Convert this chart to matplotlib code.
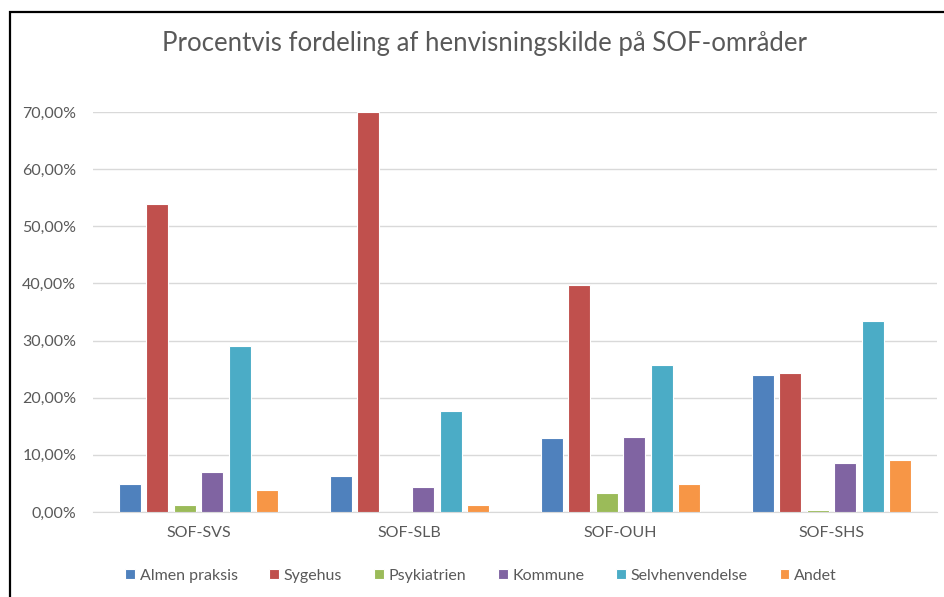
import numpy as np
import matplotlib
matplotlib.use('Agg')
import matplotlib.pyplot as plt
from matplotlib.patches import Rectangle
from matplotlib.ticker import FuncFormatter

# Data (percent)
areas = ['SOF-SVS', 'SOF-SLB', 'SOF-OUH', 'SOF-SHS']
sources = ['Almen praksis', 'Sygehus', 'Psykiatrien', 'Kommune', 'Selvhenvendelse', 'Andet']
almen_praksis = [4.9, 6.3, 13.0, 24.0]
sygehus = [53.9, 70.0, 39.7, 24.3]
psykiatrien = [1.2, 0.0, 3.3, 0.4]
kommune = [7.0, 4.4, 13.1, 8.6]
selvhenvendelse = [29.1, 17.7, 25.7, 33.4]
andet = [3.9, 1.2, 4.9, 9.1]
series = [almen_praksis, sygehus, psykiatrien, kommune, selvhenvendelse, andet]
colors = ['#4f81bd', '#c0504d', '#9bbb59', '#8064a2', '#4bacc6', '#f79646']

plt.rcParams['font.family'] = ['Lato', 'DejaVu Sans']
grey = '#595959'

fig = plt.figure(figsize=(9.44, 5.97), dpi=100)
W, H = 944, 597
ax = fig.add_axes([93 / W, 1 - 512 / H, (937 - 93) / W, 400 / H])

x = np.arange(len(areas))
pitch = 0.13
width = 0.104
for i, (vals, col, name) in enumerate(zip(series, colors, sources)):
    ax.bar(x + (i - 2.5) * pitch, vals, width, color=col, edgecolor='white',
           linewidth=0.8, label=name, zorder=3)

ax.set_xlim(-0.5, len(areas) - 0.5)
ax.set_ylim(0, 70)
ax.set_yticks(np.arange(0, 71, 10))
ax.yaxis.set_major_formatter(FuncFormatter(lambda v, p: f'{v:.2f}%'.replace('.', ',')))
ax.set_xticks(x)
ax.set_xticklabels(areas)
ax.grid(axis='y', color='#d9d9d9', linewidth=1, zorder=0)
for s in ['top', 'right', 'left']:
    ax.spines[s].set_visible(False)
ax.spines['bottom'].set_color('#d9d9d9')
ax.tick_params(axis='both', length=0, colors=grey, labelsize=11.5)
ax.tick_params(axis='y', pad=12)
ax.tick_params(axis='x', pad=10)

fig.text(485 / W, 1 - 44 / H, 'Procentvis fordeling af henvisningskilde på SOF-områder',
         ha='center', va='center', fontsize=18.5, color=grey)

leg = fig.legend(loc='center', bbox_to_anchor=(481 / W, 1 - 576 / H), ncol=6,
                 frameon=False, fontsize=11.5, handlelength=0.6, handleheight=0.6,
                 handletextpad=0.3, columnspacing=2.0)
for t in leg.get_texts():
    t.set_color(grey)

# black frame around the chart (cut at right and bottom)
fig.patches.append(Rectangle((10 / W, -0.1), 1.2, 1 - 12 / H + 0.1,
                             transform=fig.transFigure, fill=False,
                             edgecolor='black', linewidth=1.6))

fig.savefig('out.png', dpi=100)
